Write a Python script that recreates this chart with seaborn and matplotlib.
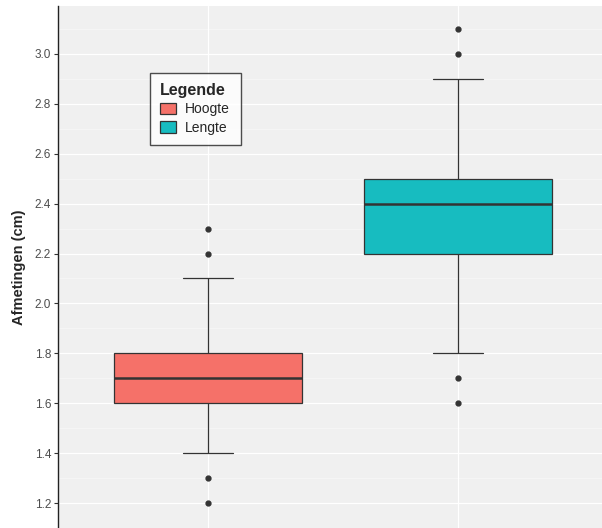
"""
Boxplot of Hoogte vs Lengte measurements (ggplot look)
"""

import pandas as pd
import numpy as np
import matplotlib.pyplot as plt
import seaborn as sns

# Data
hoogte = [1.2, 1.299, 1.4, 1.5, 1.5, 1.6, 1.6, 1.6, 1.7, 1.7, 1.7,
          1.7, 1.7, 1.8, 1.8, 1.8, 1.9, 2.0, 2.1, 2.2, 2.3]
lengte = [1.6, 1.7, 1.8, 2.0, 2.1, 2.2, 2.2, 2.3, 2.3, 2.4, 2.4,
          2.4, 2.5, 2.5, 2.5, 2.5, 2.6, 2.7, 2.9, 3.0, 3.1]
categories = ['Hoogte', 'Lengte']
colors = ['#F57169', '#17BCC0']
y_ticks = [1.2, 1.4, 1.6, 1.8, 2.0, 2.2, 2.4, 2.6, 2.8, 3.0]

df = pd.DataFrame({
    'soort': ['Hoogte'] * len(hoogte) + ['Lengte'] * len(lengte),
    'waarde': hoogte + lengte,
})

sns.set_theme(style='darkgrid')
plt.rcParams['font.family'] = ['Liberation Sans', 'DejaVu Sans']

fig = plt.figure(figsize=(6.02, 5.28), dpi=100)
ax = fig.add_axes([58 / 602, 0, 1 - 58 / 602, 1 - 6 / 528])
ax.set_facecolor('#F0F0F0')

line_col = '#333333'
sns.boxplot(data=df, x='soort', y='waarde', hue='soort', order=categories,
            hue_order=categories, palette=colors, width=0.75, legend=True,
            linecolor=line_col, linewidth=0.9, saturation=1, ax=ax,
            capwidths=0.2,
            medianprops={'linewidth': 1.8, 'color': line_col},
            flierprops={'marker': 'o', 'markersize': 3.5,
                        'markerfacecolor': line_col,
                        'markeredgecolor': line_col})

ax.set_xlim(-0.6, 1.575)
ax.set_ylim(1.108, 3.192)
ax.set_yticks(y_ticks)
ax.set_yticklabels([f'{v:.1f}' for v in y_ticks], fontsize=8.5, color='#4D4D4D')
ax.set_yticks(np.arange(1.1, 3.2, 0.2), minor=True)
ax.grid(which='major', color='white', linewidth=0.9)
ax.grid(which='minor', axis='y', color='white', linewidth=0.4, alpha=0.7)
ax.set_xticklabels([])
ax.set_xlabel('')
ax.set_ylabel('Afmetingen (cm)', fontsize=10.5, fontweight='bold', labelpad=6)
ax.tick_params(axis='y', which='major', length=3, width=0.8,
               color='#333333', left=True, pad=2)
ax.tick_params(axis='y', which='minor', length=0)
ax.tick_params(axis='x', length=0)

for side in ['top', 'right', 'bottom']:
    ax.spines[side].set_visible(False)
ax.spines['left'].set_visible(True)
ax.spines['left'].set_color('#222222')
ax.spines['left'].set_linewidth(1.0)

sns.move_legend(ax, loc='upper left', bbox_to_anchor=(0.169, 0.872),
                title='Legende', frameon=True, fontsize=10,
                title_fontproperties={'weight': 'bold', 'size': 11.5},
                handlelength=1.1, handleheight=0.9, handletextpad=0.7,
                labelspacing=0.3, borderpad=0.75, borderaxespad=0,
                fancybox=False)
leg = ax.get_legend()
leg.get_frame().set_edgecolor('#222222')
leg.get_frame().set_facecolor('white')
leg.get_frame().set_linewidth(1.0)
leg._legend_box.align = 'left'

plt.savefig('out.png', dpi=100)
plt.close()
